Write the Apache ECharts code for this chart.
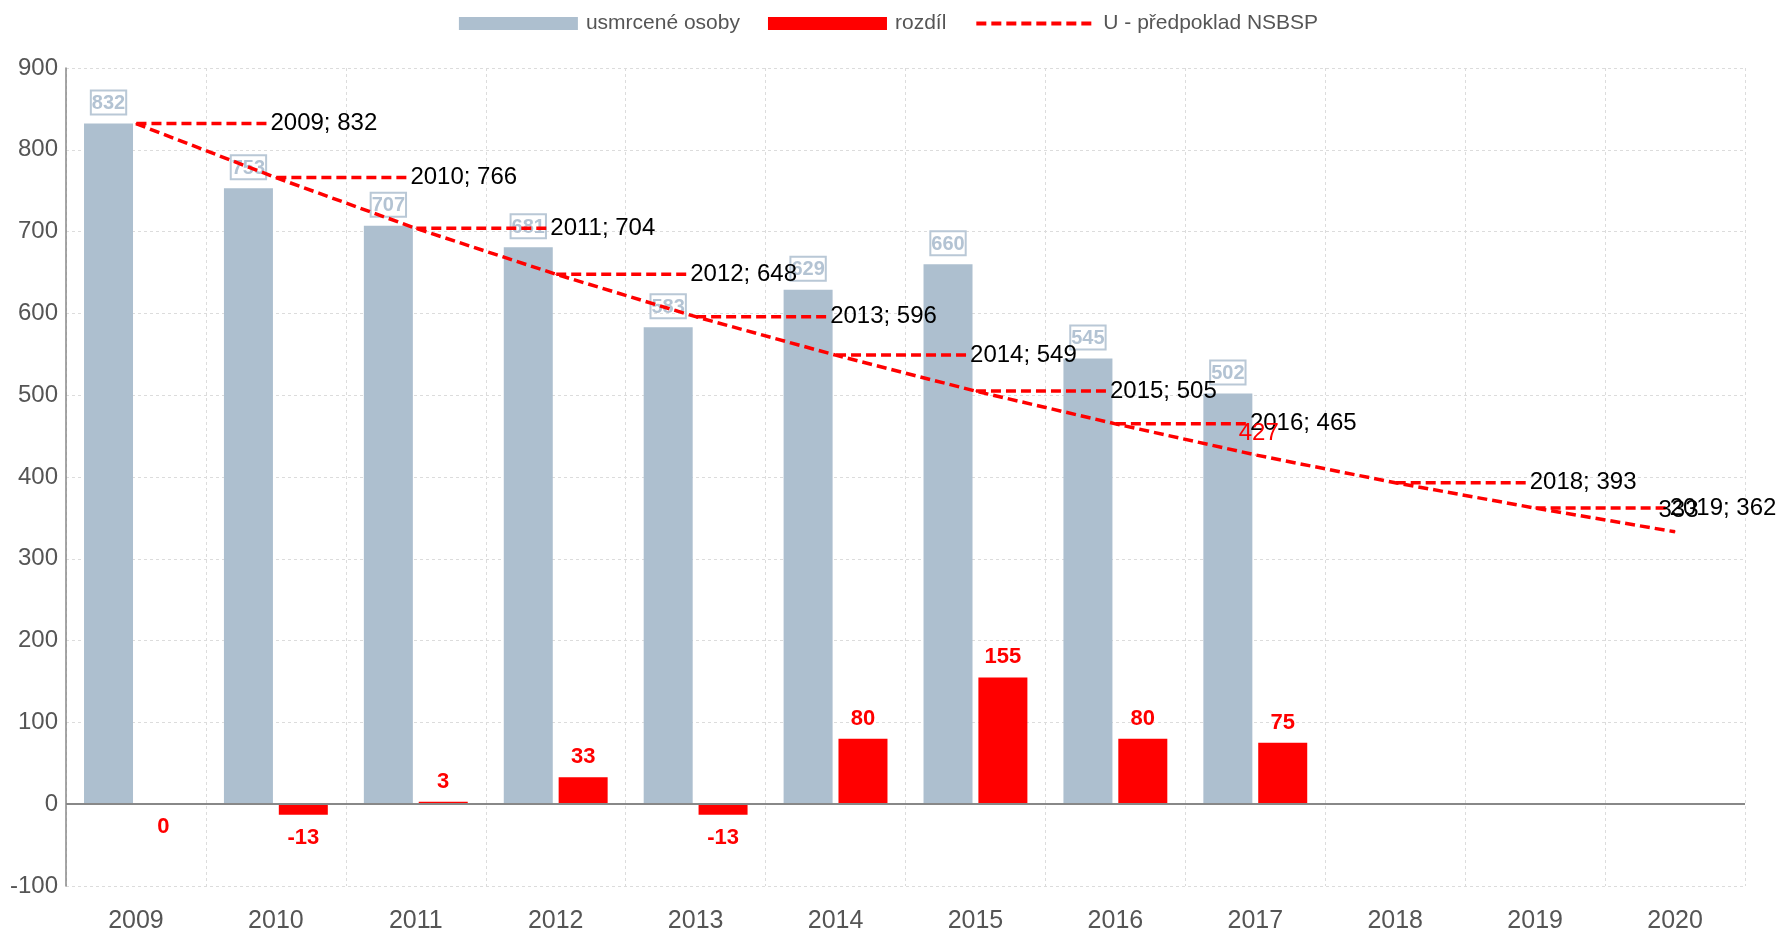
<!DOCTYPE html>
<html>
<head>
<meta charset="utf-8">
<title>usmrcené osoby</title>
<script src="https://cdn.jsdelivr.net/npm/echarts@6/dist/echarts.min.js"></script>
<style>
  html, body { margin: 0; padding: 0; background: #fff; }
  #graf { width: 1777px; height: 934px; }
</style>
</head>
<body>
<div id="graf"></div>
<script>
var roky = ['2009', '2010', '2011', '2012', '2013', '2014', '2015', '2016', '2017', '2018', '2019', '2020'];
var usmrcene = [832, 753, 707, 681, 583, 629, 660, 545, 502];
var rozdil = [0, -13, 3, 33, -13, 80, 155, 80, 75];
var predpoklad = [832, 766, 704, 648, 596, 549, 505, 465, 427, 393, 362, 333];
var osaY = { min: -100, max: 900, krok: 100 };

var PISMO = "'Liberation Sans Narrow', 'Arial Narrow', 'Liberation Sans', sans-serif";
var SEDA = '#adbfcf';
var CERVENA = '#ff0000';

var myChart = echarts.init(document.getElementById('graf'));

// rozdil: kladne popisky nahore, zaporne a nulove dole
var rozdilData = rozdil.map(function (v) {
    return { value: v, label: { position: v > 0 ? 'top' : 'bottom', distance: v > 0 ? 9 : 12 } };
});

// predpoklad: 2017 a 2020 maji jen hodnotu u bodu, ostatni odsunuty s vodici carou
var predpokladData = predpoklad.map(function (v, i) {
    var rok = roky[i];
    if (rok === '2017') {
        return { value: v, label: { position: 'top', distance: 9, color: CERVENA, formatter: '{c}' }, labelLine: { show: false } };
    }
    if (rok === '2020') {
        return { value: v, label: { position: 'top', distance: 9, formatter: '{c}' }, labelLine: { show: false } };
    }
    return v;
});

var option = {
    animation: false,
    textStyle: { fontFamily: PISMO },
    legend: {
        top: 8,
        left: 'center',
        itemWidth: 119,
        itemHeight: 13,
        itemGap: 28,
        textStyle: { color: '#555', fontSize: 21, fontFamily: PISMO, padding: [0, 0, 0, 3] },
        data: [
            { name: 'usmrcené osoby', icon: 'rect' },
            { name: 'rozdíl', icon: 'rect' },
            { name: 'U - předpoklad NSBSP', itemStyle: { opacity: 0 }, lineStyle: { width: 4 } }
        ]
    },
    grid: { left: 66, right: 32, top: 68, bottom: 48 },
    xAxis: {
        type: 'category',
        data: roky,
        axisLine: { show: false, onZero: false },
        axisTick: { show: false },
        axisLabel: { color: '#555', fontSize: 25, margin: 23, fontFamily: PISMO },
        splitLine: { show: true, lineStyle: { color: '#dcdcdc', type: [3, 3] } }
    },
    yAxis: {
        type: 'value',
        min: osaY.min,
        max: osaY.max,
        interval: osaY.krok,
        axisLine: { show: true, lineStyle: { color: '#888', width: 1.5 } },
        axisTick: { show: false },
        axisLabel: { color: '#555', fontSize: 24, margin: 8, fontFamily: PISMO },
        splitLine: { lineStyle: { color: '#dcdcdc', type: [3, 3] } }
    },
    series: [
        {
            name: 'usmrcené osoby',
            type: 'bar',
            data: usmrcene,
            barWidth: 49,
            barGap: '12%',
            itemStyle: { color: SEDA },
            label: {
                show: true,
                position: 'top',
                distance: 9,
                color: '#b3c3d3',
                fontWeight: 'bold',
                fontSize: 20,
                fontFamily: PISMO,
                borderColor: '#b9c8d6',
                borderWidth: 2,
                padding: [3, 1, 1, 1]
            },
            markLine: {
                silent: true,
                symbol: 'none',
                label: { show: false },
                lineStyle: { color: '#888', type: 'solid', width: 2 },
                data: [{ yAxis: 0 }]
            },
            z: 2
        },
        {
            name: 'rozdíl',
            type: 'bar',
            data: rozdilData,
            barWidth: 49,
            itemStyle: { color: CERVENA },
            label: {
                show: true,
                color: CERVENA,
                fontWeight: 'bold',
                fontSize: 22,
                fontFamily: PISMO
            },
            z: 2
        },
        {
            name: 'U - předpoklad NSBSP',
            type: 'line',
            data: predpokladData,
            symbol: 'circle',
            symbolSize: 1,
            itemStyle: { color: CERVENA },
            lineStyle: { color: CERVENA, width: 3.5, type: [10, 5] },
            label: {
                show: true,
                position: 'right',
                distance: 0,
                color: '#000',
                fontSize: 24,
                fontFamily: PISMO,
                padding: [0, 0, 0, 7],
                formatter: function (p) { return p.name + '; ' + p.value; }
            },
            labelLayout: function (p) {
                var rok = roky[p.dataIndex];
                if (rok === '2017' || rok === '2020') return {};
                return { dx: 127 };
            },
            labelLine: {
                show: true,
                lineStyle: { color: CERVENA, width: 3.5, type: [10, 5] }
            },
            z: 5
        }
    ]
};

myChart.setOption(option);
</script>
</body>
</html>
